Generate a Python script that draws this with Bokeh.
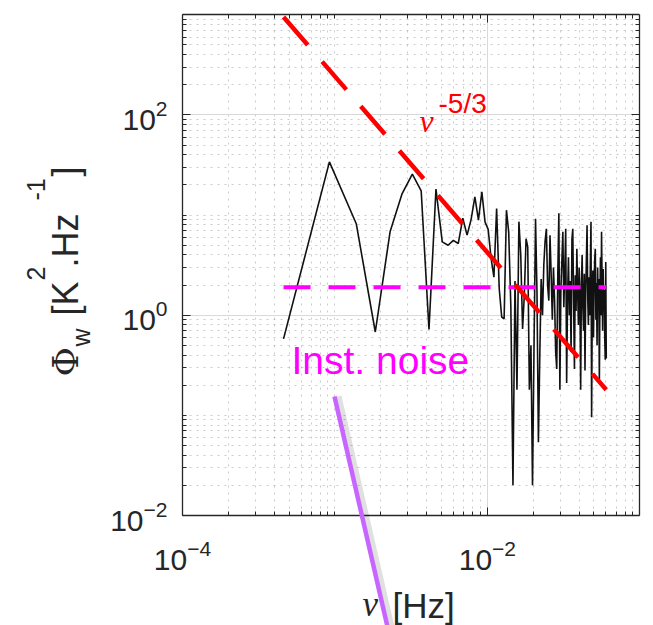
import math
from bokeh.plotting import figure
from bokeh.models import (FixedTicker, LogTickFormatter, LogAxis, Label, Arrow,
                          ColumnDataSource, Range1d)
from bokeh.embed import file_html
from bokeh.resources import INLINE

# ---------------- data ----------------
freq_mhz = [0.46, 0.92, 1.38, 1.84, 2.30, 2.76, 3.22, 3.68, 4.14, 4.60,
            5.06, 5.52, 5.98, 6.44, 6.90, 7.36, 7.82, 8.28, 8.74, 9.20,
            9.66, 10.12, 10.58, 11.04, 11.50, 11.96, 12.42, 12.88, 13.34, 13.80,
            14.26, 14.72, 15.18, 15.64, 16.10, 16.56, 17.02, 17.48, 17.94, 18.40,
            18.86, 19.32, 19.78, 20.24, 20.70, 21.16, 21.62, 22.08, 22.54, 23.00,
            23.46, 23.92, 24.38, 24.84, 25.30, 25.76, 26.22, 26.68, 27.14, 27.60,
            28.06, 28.52, 28.98, 29.44, 29.90, 30.36, 30.82, 31.28, 31.74, 32.20,
            32.66, 33.12, 33.58, 34.04, 34.50, 34.96, 35.42, 35.88, 36.34, 36.80,
            37.26, 37.72, 38.18, 38.64, 39.10, 39.56, 40.02, 40.48, 40.94, 41.40,
            41.86, 42.32, 42.78, 43.24, 43.70, 44.16, 44.62, 45.08, 45.54, 46.00,
            46.46, 46.92, 47.38, 47.84, 48.30, 48.76, 49.22, 49.68, 50.14, 50.60,
            51.06, 51.52, 51.98, 52.44, 52.90, 53.36, 53.82, 54.28, 54.74, 55.20,
            55.66, 56.12, 56.58, 57.04, 57.50, 57.96, 58.42, 58.88, 59.34, 59.80,
            60.26]

psd = [0.58, 34.0, 8.2, 0.68, 6.8, 16.4, 25.7, 17.4, 0.72, 18.2,
       5.4, 5.0, 5.6, 5.2, 9.3, 6.3, 9.0, 15.2, 8.9, 17.1,
       8.5, 7.2, 3.7, 2.4, 11.6, 1.85, 0.96, 0.92, 11.2, 6.8,
       1.2, 0.02, 2.2, 0.18, 8.6, 4.0, 0.73, 1.6, 5.8, 4.8,
       0.18, 0.5, 0.02, 0.5, 9.2, 1.7, 0.054, 0.4, 2.3, 1.0,
       3.2, 5.5, 7.3, 2.0, 1.4, 6.3, 2.5, 0.9, 3.0, 1.4,
       0.43, 0.29, 2.6, 10.4, 0.18, 1.8, 3.5, 6.8, 1.2, 2.8,
       7.3, 0.21, 1.5, 3.8, 1.0, 2.2, 0.43, 5.8, 7.3, 1.3,
       0.29, 2.5, 1.1, 4.6, 1.8, 0.8, 3.0, 1.5, 0.18, 2.0,
       4.0, 1.2, 0.7, 2.6, 0.28, 1.6, 3.5, 7.9, 1.5, 0.8,
       2.4, 1.0, 3.2, 8.6, 0.096, 1.3, 2.8, 0.6, 1.9, 3.6,
       4.6, 0.9, 2.1, 0.5, 3.0, 1.2, 2.3, 0.21, 1.4, 3.8,
       1.0, 6.8, 2.0, 0.7, 2.9, 1.1, 1.8, 0.6, 0.36, 3.4,
       0.37]

noise_level = 1.9            # instrument noise, K^2/Hz
ref_slope_y = [950.0, 0.18]  # nu^-5/3 guide at first / last frequency

x_lim = [1e-4, 1e-1]
y_lim = [1e-2, 1e3]
x_major = [1e-4, 1e-2]
y_major = [1e-2, 1e0, 1e2]

freq = [f * 1e-3 for f in freq_mhz]

x_minor = sorted([m * 10.0 ** e for e in (-4, -3, -2) for m in range(2, 10)] + [1e-3])
y_minor = sorted([m * 10.0 ** e for e in (-2, -1, 0, 1, 2) for m in range(2, 10)] + [1e-1, 1e1])

# ---------------- layout geometry (canvas px) ----------------
W, H = 653, 625
BOX_L, BOX_R, BOX_T, BOX_B = 182.0, 639.3, 14.3, 515.0
AX = "#262626"

lx0, lx1 = math.log10(x_lim[0]), math.log10(x_lim[1])
ly0, ly1 = math.log10(y_lim[0]), math.log10(y_lim[1])
ppx = (BOX_R - BOX_L) / (lx1 - lx0)
ppy = (BOX_B - BOX_T) / (ly1 - ly0)
xr = Range1d(10 ** (lx0 - BOX_L / ppx), 10 ** (lx1 + (W - BOX_R) / ppx))
yr = Range1d(10 ** (ly0 - (H - BOX_B) / ppy), 10 ** (ly1 + BOX_T / ppy))

p = figure(width=W, height=H, x_axis_type="log", y_axis_type="log",
           x_range=xr, y_range=yr, output_backend="svg", toolbar_location=None,
           min_border=0, min_border_left=0, min_border_right=0,
           min_border_top=0, min_border_bottom=0)
p.background_fill_color = "white"
p.border_fill_color = "white"
p.outline_line_color = None

xt = FixedTicker(ticks=x_major, minor_ticks=x_minor)
yt = FixedTicker(ticks=y_major, minor_ticks=y_minor)

bottom_ax = p.below[0]
left_ax = p.left[0]
bottom_ax.update(ticker=xt, formatter=LogTickFormatter(), fixed_location=y_lim[0],
                 bounds=tuple(x_lim), major_label_standoff=24,
                 major_label_text_font_size="30px")
left_ax.update(ticker=yt, formatter=LogTickFormatter(), fixed_location=x_lim[0],
               bounds=tuple(y_lim), major_label_standoff=15,
               major_label_text_font_size="30px")

top_ax = LogAxis(ticker=xt, formatter=LogTickFormatter(), fixed_location=y_lim[1],
                 bounds=tuple(x_lim), major_label_text_font_size="1px",
                 major_label_text_alpha=0.0, major_label_standoff=0)
right_ax = LogAxis(ticker=yt, formatter=LogTickFormatter(), fixed_location=x_lim[1],
                   bounds=tuple(y_lim), major_label_text_font_size="1px",
                   major_label_text_alpha=0.0, major_label_standoff=0)
p.add_layout(top_ax, "above")
p.add_layout(right_ax, "right")

for ax in [bottom_ax, left_ax, top_ax, right_ax]:
    ax.axis_line_color = AX
    ax.axis_line_width = 1.3
    ax.major_tick_line_color = AX
    ax.minor_tick_line_color = AX
    ax.major_tick_in = 8
    ax.major_tick_out = 0
    ax.minor_tick_in = 4
    ax.minor_tick_out = 0
    ax.major_label_text_font = "Liberation Sans"
    ax.major_label_text_color = AX

xg, yg = p.xgrid[0], p.ygrid[0]
xg.update(ticker=xt, bounds=tuple(x_lim), cross_bounds=tuple(y_lim))
yg.update(ticker=yt, bounds=tuple(y_lim), cross_bounds=tuple(x_lim))
for g in [xg, yg]:
    g.grid_line_color = "#d9d9d9"
    g.grid_line_width = 1
    g.minor_grid_line_color = "#8c8c8c"
    g.minor_grid_line_alpha = 0.45
    g.minor_grid_line_dash = "2 5"
    g.minor_grid_line_width = 1

# ---------------- glyphs ----------------
src = ColumnDataSource(dict(f=freq, psd=psd))
p.line("f", "psd", source=src, line_color="#111111", line_width=1.6)

p.line(x=[freq[0], freq[-1]], y=[noise_level, noise_level],
       line_color="#ff00ff", line_width=4, line_dash="27 18")
p.line(x=[freq[0], freq[-1]], y=ref_slope_y,
       line_color="#ff0000", line_width=4.5, line_dash="37 22")


# ---------------- annotations ----------------
MID = 0.345  # distance (in em) from the text's vertical middle down to its baseline


def lab(text, cx, base, size, color=AX, font="Liberation Sans", style="normal", rotated=False):
    """cx/base: start of text and its baseline, in canvas px (y down).
    For rotated text (reading upwards) cx is the start y and base the baseline x."""
    if rotated:
        sx, sy = base - MID * size, H - cx
        ang = math.pi / 2
    else:
        sx, sy = cx, H - (base - MID * size)
        ang = 0.0
    p.add_layout(Label(x=sx, y=sy, x_units="screen", y_units="screen", text=text,
                       text_font=font, text_font_size=f"{size}px", text_color=color,
                       text_font_style=style, text_align="left",
                       text_baseline="middle", angle=ang))


# nu^-5/3 label
lab("\u03bd", 419, 132, 32, color="#ff0000", font="Liberation Serif", style="italic")
lab("-5/3", 438, 113, 28, color="#ff0000")
# Inst. noise
lab("Inst. noise", 291, 373, 39, color="#ff00ff")

# x-axis label
lab("\u03bd", 362, 616, 35, font="Liberation Serif", style="italic")
lab("[Hz]", 392, 617, 35)

# y-axis label (rotated, reading upwards): (start y, baseline x)
lab("\u03a6", 376, 77, 36, font="DejaVu Serif", rotated=True)
lab("w", 346, 89, 25, rotated=True)
lab("[K", 315, 77, 36, rotated=True)
lab("2", 280, 44, 25, rotated=True)
lab(".Hz", 267, 77, 36, rotated=True)
lab("-1", 200, 44, 25, rotated=True)
lab("]", 176, 77, 36, rotated=True)

# purple pointer stroke with soft shadow
x0, y0 = 334, H - 396
x1, y1 = 389, H - 635
p.add_layout(Arrow(end=None, x_start=x0 + 3, y_start=y0, x_end=x1 + 3, y_end=y1,
                   start_units="screen", end_units="screen",
                   line_color="#000000", line_alpha=0.12, line_width=8))
p.add_layout(Arrow(end=None, x_start=x0, y_start=y0, x_end=x1, y_end=y1,
                   start_units="screen", end_units="screen",
                   line_color="#c864ff", line_width=4.5))

open("out.html", "w").write(file_html(p, INLINE))
